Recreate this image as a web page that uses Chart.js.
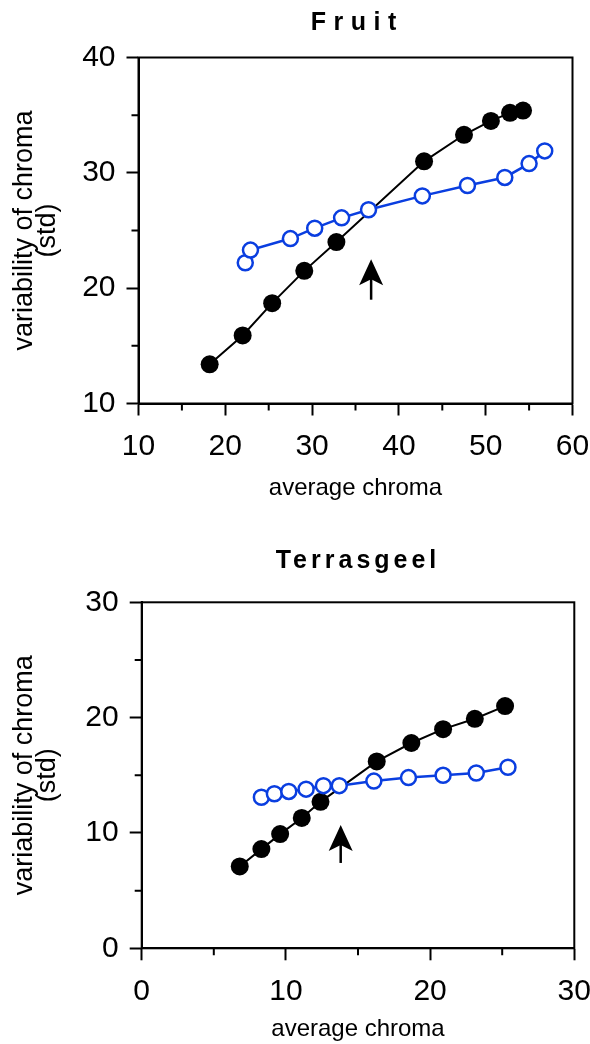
<!DOCTYPE html>
<html>
<head>
<meta charset="utf-8">
<script src="https://cdn.jsdelivr.net/npm/chart.js@4"></script>
<style>
  html, body { margin: 0; padding: 0; background: #fff; }
  .panel { width: 590px; height: 522px; }
</style>
</head>
<body>
<div class="panel"><canvas id="fruit-chart" width="590" height="522"></canvas></div>
<div class="panel"><canvas id="terra-chart" width="590" height="522"></canvas></div>
<script>
// Fruit
const fruitDarkX = [18.2, 22.0, 25.4, 29.1, 32.8, 42.9, 47.5, 50.6, 52.8, 54.3];
const fruitDarkY = [13.4, 15.9, 18.7, 21.5, 24.0, 31.0, 33.3, 34.5, 35.2, 35.4];
const fruitOpenX = [22.3, 22.9, 27.5, 30.3, 33.4, 36.5, 42.7, 47.9, 52.2, 55.0, 56.8];
const fruitOpenY = [22.2, 23.3, 24.3, 25.2, 26.1, 26.8, 28.0, 28.9, 29.6, 30.8, 31.9];
const fruitArrow = [36.8, 19.0, 22.5]; // x, tail y, tip y

// Terrasgeel
const terraDarkX = [6.8, 8.3, 9.6, 11.1, 12.4, 16.3, 18.7, 20.9, 23.1, 25.2];
const terraDarkY = [7.1, 8.6, 9.9, 11.3, 12.7, 16.2, 17.8, 19.0, 19.9, 21.0];
const terraOpenX = [8.3, 9.2, 10.2, 11.4, 12.6, 13.7, 16.1, 18.5, 20.9, 23.2, 25.4];
const terraOpenY = [13.1, 13.4, 13.6, 13.8, 14.1, 14.1, 14.5, 14.8, 15.0, 15.2, 15.7];
const terraArrow = [13.8, 7.4, 10.7];

// axis ranges [min, max]
const fruitXRange = [10, 60];
const fruitYRange = [10, 40];
const terraXRange = [0, 30];
const terraYRange = [0, 30];

const xTitle = 'average chroma';
const yTitle = ['variability of chroma', '(std)'];

Chart.defaults.font.family = "'Liberation Sans', Arial, Helvetica, sans-serif";
Chart.defaults.color = '#000';

const BLUE = '#0a3ee0';

function toPoints(xs, ys) {
    return xs.map((x, i) => ({ x: x, y: ys[i] }));
}

// top and right edge of the box
const framePlugin = {
    id: 'frame',
    beforeDatasetsDraw(chart) {
        const { ctx, chartArea: a } = chart;
        ctx.save();
        ctx.strokeStyle = '#000';
        ctx.lineWidth = 2;
        ctx.strokeRect(a.left, a.top, a.right - a.left, a.bottom - a.top);
        ctx.restore();
    }
};

// short ticks at the halfway values
const minorTickPlugin = {
    id: 'minorTicks',
    afterDraw(chart) {
        const { ctx, chartArea: a, scales } = chart;
        ctx.save();
        ctx.strokeStyle = '#000';
        ctx.lineWidth = 2;
        ctx.beginPath();
        for (let v = scales.x.min + 5; v < scales.x.max; v += 10) {
            const px = scales.x.getPixelForValue(v);
            ctx.moveTo(px, a.bottom);
            ctx.lineTo(px, a.bottom + 7);
        }
        for (let v = scales.y.min + 5; v < scales.y.max; v += 10) {
            const py = scales.y.getPixelForValue(v);
            ctx.moveTo(a.left, py);
            ctx.lineTo(a.left - 7, py);
        }
        ctx.stroke();
        ctx.restore();
    }
};

// letter-spaced bold heading over the plot
const headingPlugin = {
    id: 'heading',
    afterDraw(chart, args, opts) {
        const { ctx, chartArea: a } = chart;
        ctx.save();
        ctx.font = 'bold 25px ' + Chart.defaults.font.family;
        ctx.fillStyle = '#000';
        ctx.textAlign = 'center';
        ctx.textBaseline = 'middle';
        ctx.letterSpacing = opts.spacing + 'px';
        ctx.fillText(opts.text, (a.left + a.right) / 2 + opts.spacing / 2 - 2, opts.y);
        ctx.restore();
    }
};

// upward arrow marking the break point
const arrowPlugin = {
    id: 'arrow',
    afterDatasetsDraw(chart, args, opts) {
        const { ctx, scales } = chart;
        const x = scales.x.getPixelForValue(opts.at[0]);
        const yTail = scales.y.getPixelForValue(opts.at[1]);
        const yTip = scales.y.getPixelForValue(opts.at[2]);
        ctx.save();
        ctx.strokeStyle = '#000';
        ctx.fillStyle = '#000';
        ctx.lineWidth = 2.5;
        ctx.beginPath();
        ctx.moveTo(x, yTail);
        ctx.lineTo(x, yTip + 18);
        ctx.stroke();
        ctx.beginPath();
        ctx.moveTo(x, yTip);
        ctx.lineTo(x + 12, yTip + 26);
        ctx.lineTo(x, yTip + 20);
        ctx.lineTo(x - 12, yTip + 26);
        ctx.closePath();
        ctx.fill();
        ctx.restore();
    }
};

function makeChart(canvasId, cfg) {
    const tickColor = (c) => (c.tick && c.tick.value % 10 === 0) ? '#000' : 'rgba(0,0,0,0)';
    return new Chart(document.getElementById(canvasId), {
        type: 'line',
        data: {
            datasets: [
                {
                    data: toPoints(cfg.openX, cfg.openY),
                    order: 0,
                    borderColor: BLUE,
                    borderWidth: 2.5,
                    pointRadius: 7.5,
                    pointBorderWidth: 2.5,
                    pointBackgroundColor: '#fff',
                    pointBorderColor: BLUE,
                    tension: 0,
                },
                {
                    data: toPoints(cfg.darkX, cfg.darkY),
                    order: 1,
                    borderColor: '#000',
                    borderWidth: 2,
                    pointRadius: 9,
                    pointBorderWidth: 0,
                    pointBackgroundColor: '#000',
                    pointBorderColor: '#000',
                    tension: 0,
                },
            ],
        },
        options: {
            responsive: false,
            animation: false,
            events: [],
            layout: { padding: { top: cfg.top, right: cfg.right, left: 0, bottom: 0 } },
            plugins: {
                legend: { display: false },
                tooltip: { enabled: false },
                heading: { text: cfg.title, y: cfg.titleY, spacing: cfg.spacing },
                arrow: { at: cfg.arrow },
            },
            scales: {
                x: {
                    type: 'linear',
                    min: cfg.xRange[0],
                    max: cfg.xRange[1],
                    afterFit: (s) => {
                        s.height = cfg.xAxisHeight;
                        s.paddingLeft = 0;
                        s.paddingRight = 0;
                    },
                    ticks: {
                        stepSize: 5,
                        padding: 13,
                        maxRotation: 0,
                        autoSkip: false,
                        font: { size: 30 },
                        color: '#000',
                        callback: (v) => v % 10 === 0 ? v : '',
                    },
                    grid: { drawOnChartArea: false, tickLength: 12, tickWidth: 2, tickColor: tickColor },
                    border: { color: '#000', width: 2 },
                    title: {
                        display: true,
                        text: xTitle,
                        color: '#000',
                        font: { size: 24, lineHeight: 1.2 },
                        padding: { top: 0, bottom: cfg.xTitlePad },
                    },
                },
                y: {
                    type: 'linear',
                    min: cfg.yRange[0],
                    max: cfg.yRange[1],
                    afterFit: (s) => {
                        s.width = cfg.yAxisWidth;
                        s.paddingTop = 0;
                        s.paddingBottom = 0;
                    },
                    ticks: {
                        stepSize: 5,
                        padding: 11,
                        autoSkip: false,
                        font: { size: 30 },
                        color: '#000',
                        callback: (v) => v % 10 === 0 ? v : '',
                    },
                    grid: { drawOnChartArea: false, tickLength: 12, tickWidth: 2, tickColor: tickColor },
                    border: { color: '#000', width: 2 },
                    title: {
                        display: true,
                        text: yTitle,
                        color: '#000',
                        font: { size: 27, lineHeight: '23px' },
                        padding: { top: 13, bottom: 0 },
                    },
                },
            },
        },
        plugins: [framePlugin, minorTickPlugin, headingPlugin, arrowPlugin],
    });
}

makeChart('fruit-chart', {
    title: 'Fruit', titleY: 23, spacing: 7.5,
    darkX: fruitDarkX, darkY: fruitDarkY, openX: fruitOpenX, openY: fruitOpenY,
    arrow: fruitArrow, xRange: fruitXRange, yRange: fruitYRange,
    top: 57.5, right: 17.5, xAxisHeight: 118.5, yAxisWidth: 138.5, xTitlePad: 19.5,
});

makeChart('terra-chart', {
    title: 'Terrasgeel', titleY: 39, spacing: 4,
    darkX: terraDarkX, darkY: terraDarkY, openX: terraOpenX, openY: terraOpenY,
    arrow: terraArrow, xRange: terraXRange, yRange: terraYRange,
    top: 80.3, right: 15.7, xAxisHeight: 95.7, yAxisWidth: 141.7, xTitlePad: 0,
});
</script>
</body>
</html>
